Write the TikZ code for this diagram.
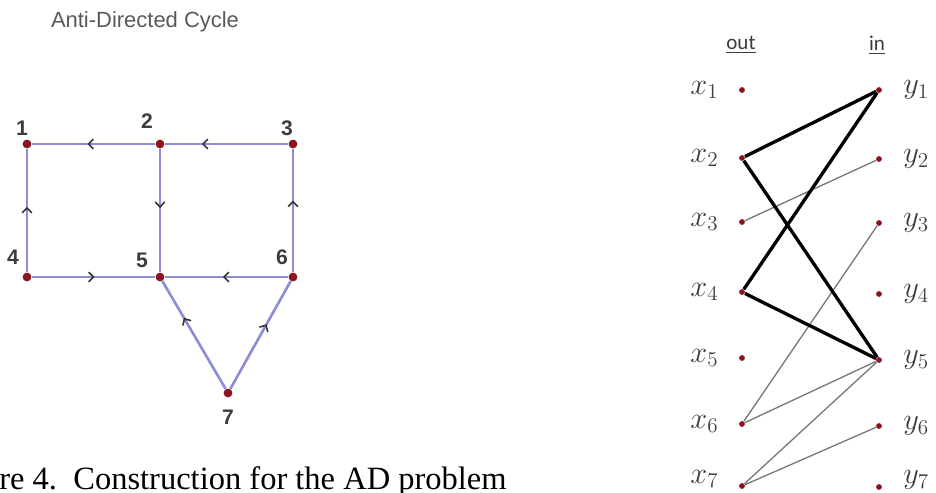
\documentclass[tikz,border=0pt]{standalone}
\usepackage{fontspec}
\setmainfont{Liberation Serif}
\setsansfont{Liberation Sans}
\newfontfamily\headfont{Carlito}
\usetikzlibrary{arrows.meta,positioning,decorations.markings}
\definecolor{edgeblue}{RGB}{140,140,215}
\definecolor{dotred}{RGB}{140,20,30}
\definecolor{lblgray}{RGB}{60,60,60}
\definecolor{thingray}{RGB}{120,120,120}

\begin{document}
\begin{tikzpicture}[x=0.02cm, y=-0.02cm, >=Latex,
  vtx/.style={circle, fill=dotred, inner sep=0pt, minimum size=5pt},
  pt/.style={circle, fill=dotred, inner sep=0pt, minimum size=3.3pt},
  num/.style={font=\sffamily\bfseries\fontsize{12}{14}\selectfont, text=lblgray},
  arc/.style={draw=edgeblue, line width=1.5pt, postaction={decorate},
    decoration={markings, mark=at position #1 with
      {\arrow[black!80]{Straight Barb[length=2.8pt,width=5.5pt,line width=0.9pt]}}}},
  lbl/.style={font=\fontsize{17}{19}\selectfont, text=lblgray},
  colhead/.style={font=\headfont\fontsize{12}{14}\selectfont, text=lblgray},
  match/.style={draw=black, line width=1.9pt},
  other/.style={draw=thingray, line width=0.75pt}]
\useasboundingbox (0,0) rectangle (936,493);
% anti-directed cycle on the left
\node[font=\sffamily\fontsize{12.5}{15}\selectfont, text=black!65] (title) at (145,22) {Anti-Directed Cycle};
\node[vtx] (v1) at (27,144) {};
\node[vtx] (v2) at (160,144) {};
\node[vtx] (v3) at (293,144) {};
\node[vtx] (v4) at (27,277) {};
\node[vtx] (v5) at (160,277) {};
\node[vtx] (v6) at (293,277) {};
\node[vtx] (v7) at (228,393) {};
\node[num, xshift=-0.10cm, yshift=0.32cm] (n1) at (v1) {1};
\node[num, xshift=-0.26cm, yshift=0.46cm] (n2) at (v2) {2};
\node[num, xshift=-0.12cm, yshift=0.32cm] (n3) at (v3) {3};
\node[num, xshift=-0.28cm, yshift=0.40cm] (n4) at (v4) {4};
\node[num, xshift=-0.36cm, yshift=0.34cm] (n5) at (v5) {5};
\node[num, xshift=-0.22cm, yshift=0.40cm] (n6) at (v6) {6};
\node[num, yshift=-0.48cm] (n7) at (v7) {7};
% edges, tail to head
\draw[arc=0.55] (v2) -- (v1);
\draw[arc=0.70] (v3) -- (v2);
\draw[arc=0.48] (v2) -- (v5);
\draw[arc=0.53] (v4) -- (v1);
\draw[arc=0.51] (v4) -- (v5);
\draw[arc=0.53] (v6) -- (v5);
\draw[arc=0.58] (v6) -- (v3);
\draw[arc=0.66] (v7) -- (v5);
\draw[arc=0.60] (v7) -- (v6);
% bipartite construction on the right
\node[pt] (x1) at (742,90) {};
\node[pt] (x2) at (742,158) {};
\node[pt] (x3) at (742,222) {};
\node[pt] (x4) at (742,292) {};
\node[pt] (x5) at (742,358) {};
\node[pt] (x6) at (742,424) {};
\node[pt] (x7) at (742,486) {};
\node[pt] (y1) at (879,90) {};
\node[pt] (y2) at (879,159) {};
\node[pt] (y3) at (879,223) {};
\node[pt] (y4) at (879,294) {};
\node[pt] (y5) at (879,360) {};
\node[pt] (y6) at (879,426) {};
\node[pt] (y7) at (879,487) {};
\node[colhead] (out) at (741,45) {\underline{out}};
\node[colhead] (in) at (877,45) {\underline{in}};
\node[lbl, left=0.28cm of x1] {$x_1$};
\node[lbl, left=0.28cm of x2] {$x_2$};
\node[lbl, left=0.28cm of x3] {$x_3$};
\node[lbl, left=0.28cm of x4] {$x_4$};
\node[lbl, left=0.28cm of x5] {$x_5$};
\node[lbl, left=0.28cm of x6] {$x_6$};
\node[lbl, left=0.28cm of x7, yshift=0.14cm] {$x_7$};
\node[lbl, right=0.3cm of y1] {$y_1$};
\node[lbl, right=0.3cm of y2] {$y_2$};
\node[lbl, right=0.3cm of y3] {$y_3$};
\node[lbl, right=0.3cm of y4] {$y_4$};
\node[lbl, right=0.3cm of y5] {$y_5$};
\node[lbl, right=0.3cm of y6] {$y_6$};
\node[lbl, right=0.3cm of y7, yshift=0.14cm] {$y_7$};
\draw[other] (x3) -- (y2);
\draw[other] (x6) -- (y3);
\draw[other] (x6) -- (y5);
\draw[other] (x7) -- (y5);
\draw[other] (x7) -- (y6);
\draw[match] (x2) -- (y1);
\draw[match] (x2) -- (y5);
\draw[match] (x4) -- (y1);
\draw[match] (x4) -- (y5);
% caption, cut at the left and bottom edges
\node[anchor=base west, inner sep=0pt, font=\fontsize{18.5}{22}\selectfont] (cap) at (-1,489) {re 4.\ \ Construction for the AD problem};
\end{tikzpicture}
\end{document}
